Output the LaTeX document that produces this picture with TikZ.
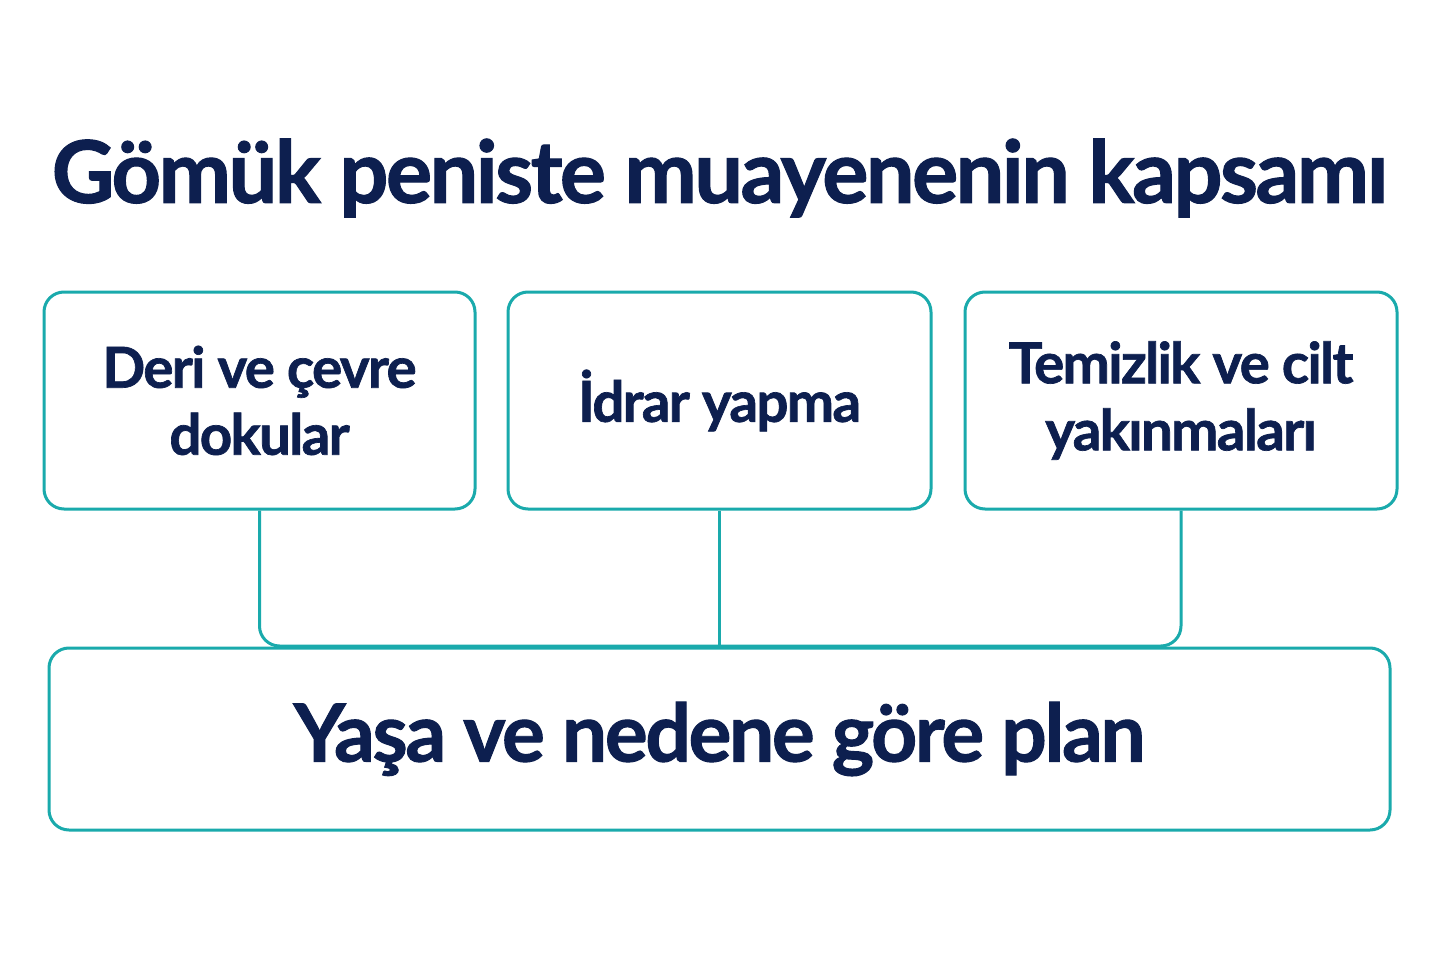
\documentclass[tikz,border=0pt]{standalone}
\usepackage{fontspec}
\setmainfont{Lato}[LetterSpace=-3,BoldFeatures={FakeBold=1.2}]
\definecolor{teal1}{HTML}{1AAAAC}
\definecolor{navy1}{HTML}{0D1F4F}
\begin{document}
\begin{tikzpicture}[x=1pt,y=-1pt,
  boxst/.style={draw=teal1,line width=3pt,rounded corners=20pt,fill=white,inner sep=0pt,align=center,text=navy1,font=\bfseries\fontsize{56.5}{67}\selectfont},
  conn/.style={draw=teal1,line width=3pt}]
\useasboundingbox[fill=white] (0,0) rectangle (1440,960);
\node[text=navy1,font=\bfseries\fontsize{86.5}{100}\selectfont] (title) at (720,178) {Gömük peniste muayenenin kapsamı};
\coordinate (j1) at (259.5,646);
\coordinate (j2) at (719.5,646);
\coordinate (j3) at (1181,646);
\node[boxst,minimum width=1341pt,minimum height=182pt,font=\bfseries\fontsize{80.3}{80}\selectfont] (bot) at (719.5,739) {Yaşa ve nedene göre plan};
\node[boxst,minimum width=431pt,minimum height=217pt] (b1) at (259.5,400.5) {Deri ve çevre\\dokular};
\node[boxst,minimum width=423pt,minimum height=217pt] (b2) at (719.5,400.5) {İdrar yapma};
\node[boxst,minimum width=432pt,minimum height=217pt] (b3) at (1181,400.5) {Temizlik ve cilt\\yakınmaları};
\draw[conn,rounded corners=20pt] (b1.south) -- (j1) -- (j3) -- (b3.south);
\draw[conn] (b2.south) -- (j2);
\end{tikzpicture}
\end{document}
